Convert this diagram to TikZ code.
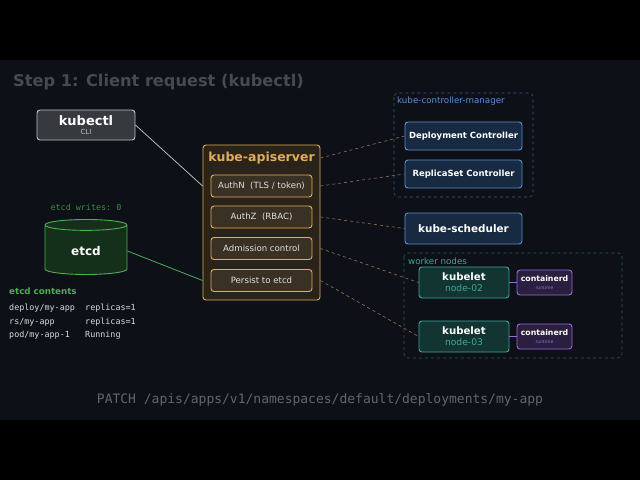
\documentclass[tikz,border=0pt]{standalone}
\usepackage{fontspec}
\setmainfont{DejaVu Sans}
\setmonofont{DejaVu Sans Mono}
\usetikzlibrary{arrows.meta,positioning,shapes.geometric}
\definecolor{bgdark}{HTML}{0D1117}
\definecolor{titlegray}{HTML}{454B53}
\definecolor{apiorange}{HTML}{E3AC5C}
\definecolor{apifill}{HTML}{2A2319}
\definecolor{stepfill}{HTML}{3A3024}
\definecolor{ctlblue}{HTML}{5B8FCF}
\definecolor{ctlfill}{HTML}{172A42}
\definecolor{tealc}{HTML}{3FA79A}
\definecolor{tealfill}{HTML}{123532}
\definecolor{purp}{HTML}{9A6BD6}
\definecolor{purpfill}{HTML}{2A1F3E}
\definecolor{etcdgreen}{HTML}{4CAF50}
\definecolor{etcdfill}{HTML}{15301A}
\definecolor{linkbrown}{HTML}{9A7250}

\tikzset{
  box/.style={draw, rounded corners=3pt, line width=0.9pt, inner sep=0pt},
  apistep/.style={box, draw=apiorange, fill=stepfill, minimum width=101pt, minimum height=22pt, text=white!88!black, font=\fontsize{8.6}{10}\selectfont},
  ctl/.style={box, draw=ctlblue, fill=ctlfill, minimum width=117pt, text=white, font=\bfseries\fontsize{8.5}{10}\selectfont},
  kubelet/.style={box, draw=tealc, fill=tealfill, minimum width=90pt, minimum height=31pt, align=center, text=white},
  runtime/.style={box, draw=purp, fill=purpfill, minimum width=55pt, minimum height=25pt, align=center, text=white},
  link/.style={draw=linkbrown, dashed, line width=0.6pt},
  group/.style={draw=#1, dashed, rounded corners=4pt, line width=0.6pt}
}

\begin{document}
\begin{tikzpicture}[x=1pt, y=-1pt]
  % background
  \fill[black] (0,0) rectangle (640,480);
  \fill[bgdark] (0,60) rectangle (640,420);

  % title
  \node[anchor=base west, inner sep=0pt, text=titlegray, font=\bfseries\fontsize{16.2}{19}\selectfont] (title) at (13,86) {Step 1: Client request (kubectl)};

  % kubectl
  \node[box, draw=white!75!black, fill=white!17!bgdark, minimum width=98pt, minimum height=30pt, align=center] (kubectl) at (86,125)
    {\textbf{\fontsize{13}{13}\selectfont\color{white}kubectl}\\[-3pt]{\fontsize{7}{7}\selectfont\color{white!75!black}CLI}};

  % apiserver
  \node[box, draw=apiorange, fill=apifill, minimum width=117pt, minimum height=155pt] (api) at (261.5,222.5) {};
  \node[text=apiorange, font=\bfseries\fontsize{12.5}{14}\selectfont] (apititle) at (261.5,158) {kube-apiserver};
  \node[apistep] (authn) at (261.5,186) {AuthN~ (TLS / token)};
  \node[apistep] (authz) at (261.5,217) {AuthZ~ (RBAC)};
  \node[apistep] (admit) at (261.5,248.5) {Admission control};
  \node[apistep] (persist) at (261.5,280.5) {Persist to etcd};

  % etcd
  \node[cylinder, shape border rotate=90, aspect=0.3, draw=etcdgreen, fill=etcdfill, line width=0.9pt,
        minimum width=82pt, minimum height=55pt, text=white, font=\bfseries\fontsize{12}{14}\selectfont] (etcd) at (86,251) {etcd};
  \node[text=etcdgreen!80!black, font=\ttfamily\fontsize{8.4}{10}\selectfont] (writes) at (86,207) {etcd writes: 0};
  \node[anchor=west, inner sep=0pt, text=etcdgreen, font=\bfseries\fontsize{8.7}{10}\selectfont] (contents) at (9,291) {etcd contents};
  \node[anchor=north west, text=white!85!black, font=\ttfamily\fontsize{8.4}{13.5}\selectfont, align=left, inner sep=0pt] (rows) at (9,304)
    {deploy/my-app\\rs/my-app\\pod/my-app-1};
  \node[anchor=north west, text=white!85!black, font=\ttfamily\fontsize{8.4}{13.5}\selectfont, align=left, inner sep=0pt] (vals) at (85,304)
    {replicas=1\\replicas=1\\Running};

  % controller manager
  \draw[group=ctlblue!60!black] (394,93) rectangle (533,197);
  \node[anchor=west, text=ctlblue, font=\fontsize{8.7}{10}\selectfont, inner sep=0pt] (cmlabel) at (397,101) {kube-controller-manager};
  \node[ctl, minimum height=28pt] (deploy) at (463.5,136) {Deployment Controller};
  \node[ctl, minimum height=28pt] (rs) at (463.5,174) {ReplicaSet Controller};
  \node[ctl, minimum height=31pt, font=\bfseries\fontsize{10.4}{12}\selectfont] (sched) at (463.5,228.5) {kube-scheduler};

  % worker nodes
  \draw[group=tealc!55!black] (404,253) rectangle (622,358);
  \node[anchor=west, text=tealc, font=\fontsize{8.7}{10}\selectfont, inner sep=0pt] (wnlabel) at (408,261) {worker nodes};
  \node[kubelet] (k2) at (464,282.5) {\textbf{\fontsize{10.2}{10}\selectfont kubelet}\\[-1pt]{\fontsize{9.2}{9}\selectfont\color{tealc}node-02}};
  \node[runtime] (c2) at (544.5,282.5) {\textbf{\fontsize{7.8}{8}\selectfont containerd}\\[-4pt]{\fontsize{4.5}{5}\selectfont\color{purp}runtime}};
  \node[kubelet] (k3) at (464,336.5) {\textbf{\fontsize{10.2}{10}\selectfont kubelet}\\[-1pt]{\fontsize{9.2}{9}\selectfont\color{tealc}node-03}};
  \node[runtime] (c3) at (544.5,336.5) {\textbf{\fontsize{7.8}{8}\selectfont containerd}\\[-4pt]{\fontsize{4.5}{5}\selectfont\color{purp}runtime}};
  \draw[purp, line width=1pt] (k2) -- (c2);
  \draw[purp, line width=1pt] (k3) -- (c3);

  % connectors
  \draw[white!80!black, line width=0.7pt] (kubectl.east) -- (api.west |- authn.west);
  \draw[etcdgreen, line width=0.8pt] (etcd.east) -- (api.west |- persist.west);
  \draw[link] (api.east |- apititle.east) -- (deploy.west);
  \draw[link] (api.east |- authn.east) -- (rs.west);
  \draw[link] (api.east |- authz.east) -- (sched.west);
  \draw[link] (api.east |- admit.east) -- (k2.west);
  \draw[link] (api.east |- persist.east) -- (k3.west);

  % request line
  \node[text=titlegray!85!white, font=\ttfamily\fontsize{13}{15}\selectfont] (patch) at (320,400) {PATCH /apis/apps/v1/namespaces/default/deployments/my-app};
\end{tikzpicture}
\end{document}
